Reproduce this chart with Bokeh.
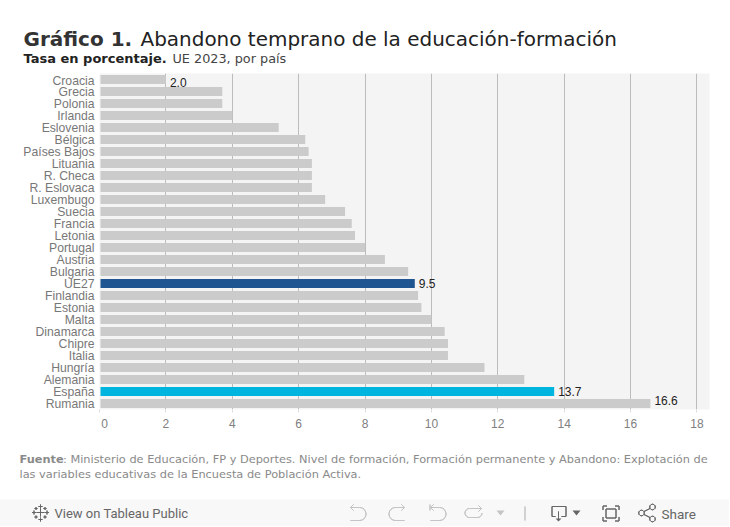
import math
from bokeh.plotting import figure
from bokeh.layouts import column
from bokeh.models import ColumnDataSource, FactorRange, Range1d, FixedTicker, Label, BoxAnnotation, PolyAnnotation
from bokeh.core.properties import value
from bokeh.embed import file_html
from bokeh.resources import INLINE

paises = ["Croacia", "Grecia", "Polonia", "Irlanda", "Eslovenia", "Bélgica", "Países Bajos", "Lituania",
          "R. Checa", "R. Eslovaca", "Luxembugo", "Suecia", "Francia", "Letonia", "Portugal", "Austria",
          "Bulgaria", "UE27", "Finlandia", "Estonia", "Malta", "Dinamarca", "Chipre", "Italia",
          "Hungría", "Alemania", "España", "Rumania"]
tasa = [2.0, 3.7, 3.7, 4.0, 5.4, 6.2, 6.3, 6.4, 6.4, 6.4, 6.8, 7.4, 7.6, 7.7, 8.0, 8.6,
        9.3, 9.5, 9.6, 9.7, 10.0, 10.4, 10.5, 10.5, 11.6, 12.8, 13.7, 16.6]
ticks = [0, 2, 4, 6, 8, 10, 12, 14, 16, 18]
destacados = {"UE27": "#1f5591", "España": "#00b4e0"}
etiquetados = ["Croacia", "UE27", "España", "Rumania"]
ajuste_etiqueta = {"Croacia": 3, "UE27": 0, "España": 0, "Rumania": -3}

W = 730
H_HEAD, H_CHART, H_FOOT = 74, 366, 87


def panel(h):
    f = figure(width=W, height=h, output_backend="svg", toolbar_location=None,
               x_axis_location=None, y_axis_location=None, x_range=Range1d(0, W), y_range=Range1d(h, 0),
               min_border=0, min_border_left=0, min_border_right=0, min_border_top=0, min_border_bottom=0,
               background_fill_color="#ffffff", border_fill_color="#ffffff", outline_line_color=None,
               frame_align=False)
    f.grid.visible = False
    return f


head = panel(H_HEAD)
foot = panel(H_FOOT)

p = figure(width=W, height=H_CHART, output_backend="svg", toolbar_location=None,
           y_range=FactorRange(factors=paises[::-1], factor_padding=0, range_padding=0),
           x_range=Range1d(0, 18.38),
           min_border_left=100, min_border_right=20, min_border_top=0, min_border_bottom=30,
           background_fill_color="#f4f4f4", border_fill_color="#ffffff", outline_line_color=None,
           frame_align=False)

src = ColumnDataSource(dict(pais=paises, tasa=tasa,
                            color=[destacados.get(c, "#cbcbcb") for c in paises]))
p.hbar(y="pais", left=0.03, right="tasa", height=0.75, color="color", source=src, line_color=None)

lab = ColumnDataSource(dict(pais=etiquetados,
                            tasa=[tasa[paises.index(c)] for c in etiquetados],
                            txt=["%.1f" % tasa[paises.index(c)] for c in etiquetados],
                            off=[ajuste_etiqueta[c] for c in etiquetados]))
p.text(x="tasa", y="pais", text="txt", source=lab, x_offset=4, y_offset="off",
       text_font=value("Liberation Sans"), text_font_size="12px", text_color="#222222",
       text_baseline="middle", text_align="left")

p.xgrid.ticker = FixedTicker(ticks=ticks[1:])
p.xgrid.grid_line_color = "#bcbcbc"
p.ygrid.grid_line_color = None

p.xaxis.ticker = FixedTicker(ticks=ticks)
p.xaxis.major_label_overrides = {0: "\u00a0\u00a0\u00a00"}
p.xaxis.axis_line_color = None
p.xaxis.major_tick_line_color = "#dddddd"
p.xaxis.major_tick_out = 3
p.xaxis.major_tick_in = 0
p.xaxis.minor_tick_line_color = None
p.xaxis.major_label_standoff = 4
p.xaxis.major_label_text_font = "Liberation Sans"
p.xaxis.major_label_text_font_size = "12px"
p.xaxis.major_label_text_color = "#808080"

p.yaxis.axis_line_color = None
p.yaxis.major_tick_line_color = None
p.yaxis.major_tick_out = 0
p.yaxis.major_tick_in = 0
p.yaxis.minor_tick_line_color = None
p.yaxis.major_label_standoff = 5
p.yaxis.major_label_text_font = "Liberation Sans"
p.yaxis.major_label_text_font_size = "12.2px"
p.yaxis.major_label_text_color = "#777777"


def txt(f, x, y, s, font="DejaVu Sans", size=12, color="#333333", bold=False):
    f.add_layout(Label(x=x, y=y - 0.35 * size, x_units="canvas", y_units="canvas", text=s, text_font=font,
                       text_font_size=f"{size}px", text_color=color, text_baseline="alphabetic",
                       text_font_style="bold" if bold else "normal"))


txt(head, 24, 46, "Gráfico 1.", size=20, color="#333333", bold=True)
txt(head, 141, 46, "Abandono temprano de la educación-formación", size=19.98, color="#222222")
txt(head, 24, 63.5, "Tasa en porcentaje.", size=13, color="#222222", bold=True)
txt(head, 173, 63.5, "UE 2023, por país", size=12.8, color="#444444")

# pie: coordenadas de lienzo del panel inferior
Y0 = H_HEAD + H_CHART
txt(foot, 20, 463.5 - Y0, "Fuente", size=11.35, color="#8a8a8a", bold=True)
txt(foot, 63.5, 463.5 - Y0, ": Ministerio de Educación, FP y Deportes. Nivel de formación, Formación permanente y Abandono: Explotación de",
    size=11.35, color="#8a8a8a")
txt(foot, 20, 478.5 - Y0, "las variables educativas de la Encuesta de Población Activa.", size=11.35, color="#8a8a8a")

# barra inferior del visor
foot.add_layout(BoxAnnotation(left=0, right=W, top=500 - Y0, bottom=527 - Y0, left_units="canvas", right_units="canvas",
                              top_units="canvas", bottom_units="canvas", fill_color="#f8f8f8", line_color=None,
                              fill_alpha=1))
txt(foot, 55, 519 - Y0, "View on Tableau Public", font="Roboto", size=13, color="#666666")
txt(foot, 662, 519 - Y0, "Share", font="Roboto", size=13.5, color="#666666")


def stroke(pts, color="#c4c4c4", w=1.0):
    xs = [a for a, _ in pts] + [a for a, _ in pts[::-1]]
    ys = [b - Y0 for _, b in pts] + [b - Y0 for _, b in pts[::-1]]
    foot.add_layout(PolyAnnotation(xs=xs, ys=ys, xs_units="canvas", ys_units="canvas", fill_alpha=0,
                                   line_color=color, line_width=w, line_alpha=1))


def filled(pts, color):
    foot.add_layout(PolyAnnotation(xs=[a for a, _ in pts], ys=[b - Y0 for _, b in pts], xs_units="canvas",
                                   ys_units="canvas", fill_color=color, fill_alpha=1, line_color=None))


def arc(cx, cy, r, a0, a1, n=12):
    return [(cx + r * math.cos(math.radians(a0 + (a1 - a0) * i / n)),
             cy + r * math.sin(math.radians(a0 + (a1 - a0) * i / n))) for i in range(n + 1)]


def cross(cx, cy, r, color="#666666"):
    stroke([(cx - r, cy), (cx + r, cy)], color)
    stroke([(cx, cy - r), (cx, cy + r)], color)


for c in [(41, 513, 4), (41, 507, 2), (41, 520, 2), (34.5, 513, 2), (47.5, 513, 2),
          (36.5, 509, 1.5), (45.5, 509, 1.5), (36.5, 517.5, 1.5), (45.5, 517.5, 1.5)]:
    cross(*c)

# deshacer
stroke([(351, 508), (360, 508)] + arc(360, 514.5, 6.5, -90, 90) + [(351, 521)])
stroke([(354, 505), (351, 508), (354, 511)])
# rehacer
stroke([(405, 508), (396, 508)] + arc(396, 514.5, 6.5, -90, -270) + [(405, 521)])
stroke([(402, 505), (405, 508), (402, 511)])
# revertir
stroke([(431, 508), (440, 508)] + arc(440, 514.5, 6.5, -90, 90) + [(431, 521)])
stroke([(434, 505), (431, 508), (434, 511)])
stroke([(430.5, 505), (430.5, 511)])
# actualizar
stroke([(482, 509), (470, 509)] + arc(470, 513.5, 4.5, -90, -270) + [(478, 518)] + arc(478, 513.5, 4.5, 90, 0))
stroke([(479, 506), (482, 509), (479, 512)])
filled([(497, 511), (505, 511), (501, 516)], "#c4c4c4")
stroke([(525.5, 507), (525.5, 521)])
# descargar
stroke([(556, 517), (552.5, 517), (552.5, 507), (566.5, 507), (566.5, 517), (562, 517)], "#666666")
stroke([(559, 512), (559, 520)], "#666666")
filled([(556, 519), (562, 519), (559, 522)], "#666666")
filled([(573, 511), (581, 511), (577, 516)], "#666666")
# pantalla completa
for a, b, d, e in [(603.5, 506.5, 1, 1), (619.5, 506.5, -1, 1), (603.5, 521.5, 1, -1), (619.5, 521.5, -1, -1)]:
    stroke([(a + 4 * d, b), (a, b), (a, b + 4 * e)], "#666666")
stroke([(606.5, 509.5), (616.5, 509.5), (616.5, 518.5), (606.5, 518.5), (606.5, 509.5)], "#666666")
# compartir
for cx, cy in [(642, 513.5), (653, 507.5), (653, 519.5)]:
    stroke(arc(cx, cy, 2.8, 0, 360), "#666666")
stroke([(644.5, 512), (650.5, 509)], "#666666")
stroke([(644.5, 515), (650.5, 518)], "#666666")

page = column(head, p, foot, spacing=0, margin=(-1, 0, 0, -1))
open("out.html", "w").write(file_html(page, INLINE))
